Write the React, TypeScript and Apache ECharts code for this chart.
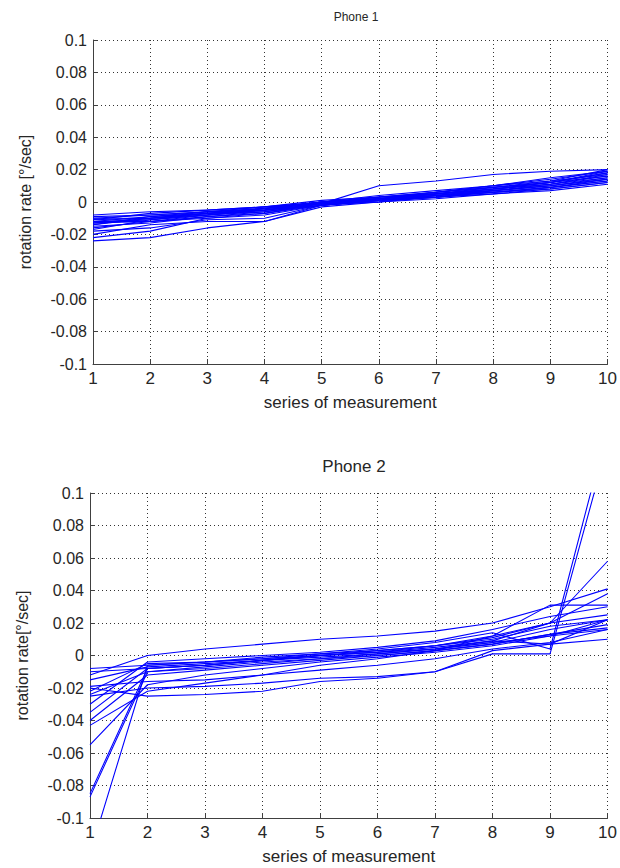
import React, { useEffect, useRef } from "react";
import * as echarts from "echarts";

const measurements = [1, 2, 3, 4, 5, 6, 7, 8, 9, 10];

const phone1: number[][] = [
  [-0.024, -0.022, -0.016, -0.012, -0.002, 0.002, 0.004, 0.006, 0.008, 0.012],
  [-0.022, -0.018, -0.010, -0.008, -0.002, 0.001, 0.003, 0.006, 0.009, 0.013],
  [-0.020, -0.014, -0.012, -0.012, -0.003, 0.000, 0.002, 0.005, 0.007, 0.011],
  [-0.018, -0.016, -0.011, -0.010, -0.002, 0.001, 0.004, 0.007, 0.010, 0.014],
  [-0.008, -0.006, -0.005, -0.003, -0.001, 0.010, 0.013, 0.017, 0.019, 0.020],
  [-0.010, -0.008, -0.006, -0.004, 0.000, 0.003, 0.006, 0.009, 0.012, 0.018],
  [-0.012, -0.009, -0.007, -0.005, -0.001, 0.002, 0.005, 0.008, 0.011, 0.016],
  [-0.013, -0.011, -0.008, -0.006, -0.001, 0.002, 0.005, 0.007, 0.010, 0.015],
  [-0.014, -0.010, -0.007, -0.004, 0.000, 0.004, 0.007, 0.010, 0.014, 0.019],
  [-0.011, -0.007, -0.005, -0.003, 0.001, 0.003, 0.006, 0.010, 0.013, 0.017],
  [-0.012, -0.012, -0.009, -0.007, -0.002, 0.001, 0.004, 0.006, 0.009, 0.013],
  [-0.015, -0.013, -0.009, -0.006, -0.001, 0.000, 0.003, 0.005, 0.008, 0.012],
  [-0.009, -0.008, -0.006, -0.005, 0.000, 0.001, 0.005, 0.008, 0.012, 0.019],
  [-0.013, -0.010, -0.006, -0.004, 0.000, 0.002, 0.006, 0.009, 0.013, 0.020],
  [-0.011, -0.010, -0.008, -0.005, -0.002, 0.001, 0.003, 0.007, 0.010, 0.014],
  [-0.016, -0.012, -0.008, -0.005, 0.000, 0.002, 0.004, 0.008, 0.011, 0.017],
  [-0.012, -0.011, -0.007, -0.004, -0.001, 0.003, 0.005, 0.009, 0.012, 0.018],
  [-0.014, -0.009, -0.006, -0.003, 0.000, 0.002, 0.006, 0.010, 0.015, 0.019],
  [-0.010, -0.010, -0.007, -0.006, -0.002, 0.000, 0.004, 0.007, 0.011, 0.015],
  [-0.013, -0.012, -0.010, -0.007, -0.001, 0.001, 0.003, 0.006, 0.009, 0.014],
  [-0.017, -0.011, -0.008, -0.004, 0.000, 0.002, 0.005, 0.008, 0.012, 0.016],
];

const phone2: number[][] = [
  [-0.008, -0.006, -0.004, -0.002, 0.000, 0.002, 0.006, 0.012, 0.020, 0.025],
  [-0.012, 0.000, 0.004, 0.007, 0.010, 0.012, 0.015, 0.020, 0.030, 0.041],
  [-0.015, -0.007, -0.005, -0.003, -0.001, 0.001, 0.004, 0.008, 0.016, 0.022],
  [-0.022, -0.005, -0.004, -0.002, 0.001, 0.003, 0.006, 0.010, 0.018, 0.022],
  [-0.024, -0.010, -0.007, -0.004, -0.002, 0.000, 0.003, 0.007, 0.013, 0.019],
  [-0.035, -0.008, -0.006, -0.003, 0.000, 0.002, 0.005, 0.009, 0.020, 0.058],
  [-0.040, -0.012, -0.009, -0.006, -0.003, 0.000, 0.003, 0.007, 0.013, 0.017],
  [-0.043, -0.022, -0.017, -0.012, -0.006, -0.002, 0.003, 0.012, 0.031, 0.031],
  [-0.055, -0.018, -0.012, -0.008, -0.004, -0.001, 0.002, 0.006, 0.012, 0.016],
  [-0.085, -0.008, -0.006, -0.003, 0.000, 0.003, 0.006, 0.011, 0.020, 0.038],
  [-0.087, -0.010, -0.008, -0.005, -0.002, 0.001, 0.004, 0.009, 0.007, 0.010],
  [-0.122, -0.006, -0.004, -0.001, 0.001, 0.004, 0.008, 0.014, 0.004, 0.140],
  [-0.020, -0.025, -0.024, -0.022, -0.016, -0.014, -0.010, 0.003, 0.007, 0.022],
  [-0.025, -0.020, -0.019, -0.017, -0.014, -0.013, -0.010, 0.001, 0.001, 0.130],
  [-0.019, -0.016, -0.015, -0.012, -0.009, -0.006, -0.002, 0.004, 0.008, 0.016],
  [-0.010, -0.008, -0.006, -0.003, 0.000, 0.002, 0.004, 0.008, 0.012, 0.022],
  [-0.030, -0.004, -0.002, 0.000, 0.002, 0.005, 0.009, 0.016, 0.024, 0.030],
];

const yTicks = { min: -0.1, max: 0.1, interval: 0.02 };
const xTicks = { min: 1, max: 10, interval: 1 };

const FONT = "Liberation Sans, Arial, Helvetica, sans-serif";
const TXT = "#262626";

function fmtY(v: number) {
  return String(parseFloat(v.toFixed(2)));
}

function makeXAxis(gridIndex: number) {
  return {
    type: "value",
    gridIndex,
    min: xTicks.min,
    max: xTicks.max,
    interval: xTicks.interval,
    name: "series of measurement",
    nameLocation: "middle",
    nameGap: 30,
    nameTextStyle: { fontFamily: FONT, fontSize: 17, color: TXT },
    axisLine: { show: true, onZero: false, lineStyle: { color: "#404040", width: 1 } },
    axisTick: { show: true, inside: true, length: 5, lineStyle: { color: "#404040" } },
    axisLabel: { fontFamily: FONT, fontSize: 17, color: TXT, margin: 6 },
    splitLine: { show: true, lineStyle: { color: "#333", type: [1, 3], width: 1 } },
    z: 0,
  };
}

function makeYAxis(gridIndex: number, name: string) {
  return {
    type: "value",
    gridIndex,
    min: yTicks.min,
    max: yTicks.max,
    interval: yTicks.interval,
    name,
    nameLocation: "middle",
    nameGap: 60,
    nameTextStyle: { fontFamily: FONT, fontSize: 16, color: TXT },
    axisLine: { show: true, onZero: false, lineStyle: { color: "#404040", width: 1 } },
    axisTick: { show: true, inside: true, length: 5, lineStyle: { color: "#404040" } },
    axisLabel: { fontFamily: FONT, fontSize: 16, color: TXT, margin: 6, formatter: fmtY },
    splitLine: { show: true, lineStyle: { color: "#333", type: [1, 3], width: 1 } },
    z: 0,
  };
}

function makeSeries(lines: number[][], idx: number) {
  return lines.map((vals) => ({
    type: "line",
    xAxisIndex: idx,
    yAxisIndex: idx,
    data: vals.map((v, i) => [measurements[i], v]),
    symbol: "none",
    clip: true,
    z: 5,
    lineStyle: { color: "#0000ff", width: 1.1 },
    silent: true,
  }));
}

export default function App() {
  const ref = useRef<HTMLDivElement>(null);
  useEffect(() => {
    if (!ref.current) return;
    const chart = echarts.init(ref.current, undefined, { renderer: "svg" });
    chart.setOption({
      animation: false,
      backgroundColor: "#ffffff",
      title: [
        {
          text: "Phone 1",
          left: 351,
          top: 6,
          textAlign: "center",
          textStyle: { fontFamily: FONT, fontSize: 12, fontWeight: "normal", color: TXT },
        },
        {
          text: "Phone 2",
          left: 349,
          top: 453,
          textAlign: "center",
          textStyle: { fontFamily: FONT, fontSize: 17, fontWeight: "normal", color: TXT },
        },
      ],
      grid: [
        { left: 93, right: 11, top: 40, height: 324 },
        { left: 90, right: 12, top: 493, height: 325 },
      ],
      xAxis: [makeXAxis(0), makeXAxis(1)],
      yAxis: [makeYAxis(0, "rotation rate [°/sec]"), makeYAxis(1, "rotation rate[°/sec]")],
      series: [...makeSeries(phone1, 0), ...makeSeries(phone2, 1)],
    });
    return () => chart.dispose();
  }, []);
  return (
    <div
      ref={ref}
      style={{ position: "fixed", left: 0, top: 0, width: 620, height: 868, background: "#fff" }}
    />
  );
}
